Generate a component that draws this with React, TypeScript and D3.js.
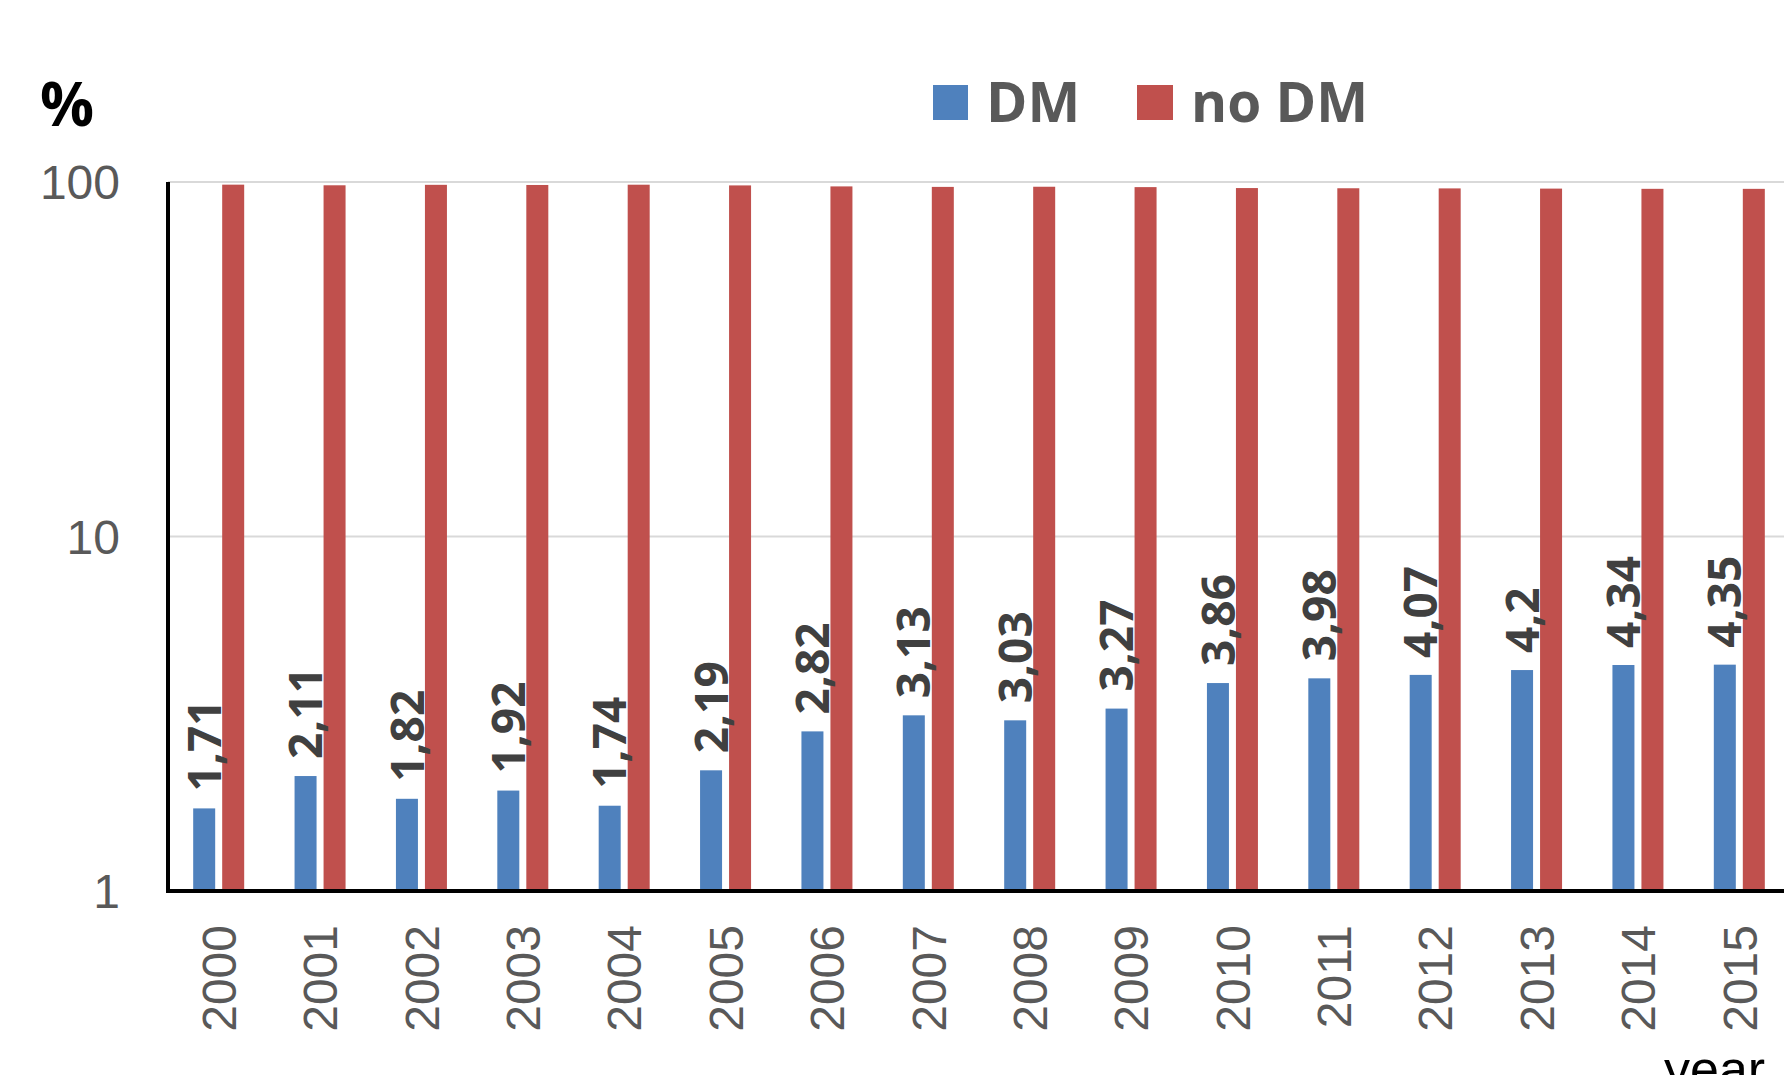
import React from "react";
import * as d3 from "d3";

const years = ["2000","2001","2002","2003","2004","2005","2006","2007","2008","2009","2010","2011","2012","2013","2014","2015"];
const dmValues = [1.71, 2.11, 1.82, 1.92, 1.74, 2.19, 2.82, 3.13, 3.03, 3.27, 3.86, 3.98, 4.07, 4.2, 4.34, 4.35];
const noDmValues = dmValues.map((v) => 100 - v);
const seriesNames = ["DM", "no DM"];
const seriesColors = ["#4F81BD", "#C0504D"];
const yTicks = [1, 10, 100];

const W = 1784;
const H = 1075;
const plotLeft = 168;
const plotRight = 1790;
const plotTop = 182;
const plotBottom = 891;

export default function App() {
  const x = d3.scaleBand<string>().domain(years).range([plotLeft, plotRight]).paddingInner(0).paddingOuter(0);
  const y = d3.scaleLog().domain([1, 100]).range([plotBottom, plotTop]);
  const sub = d3.scaleBand<string>().domain(seriesNames).range([-25.5, 25.5]).paddingInner(7 / 29).paddingOuter(0);
  const fmt = (v: number) => String(v).replace(".", ",");
  const labelFont = "'Open Sans', 'Liberation Sans', sans-serif";
  const tickFont = "'Liberation Sans', Arial, sans-serif";

  return (
    <svg width={W} height={H} style={{ position: "absolute", left: 0, top: 0, background: "#fff" }}>
      <rect x={0} y={0} width={W} height={H} fill="#fff" />
      {yTicks.map((t) => (
        <line key={"g" + t} x1={plotLeft} x2={plotRight} y1={y(t)} y2={y(t)} stroke="#d9d9d9" strokeWidth={2} />
      ))}
      {years.map((yr, i) => {
        const c = (x(yr) as number) + x.bandwidth() / 2;
        const vals = [dmValues[i], noDmValues[i]];
        return (
          <g key={yr}>
            {seriesNames.map((s, j) => (
              <rect
                key={s}
                x={c + (sub(s) as number)}
                width={sub.bandwidth()}
                y={y(vals[j])}
                height={plotBottom - y(vals[j])}
                fill={seriesColors[j]}
              />
            ))}
          </g>
        );
      })}
      {years.map((yr, i) => {
        const c = (x(yr) as number) + x.bandwidth() / 2 + (sub("DM") as number) + sub.bandwidth() / 2;
        const yy = y(dmValues[i]) - 17;
        return (
          <text
            key={"l" + yr}
            transform={`translate(${c},${yy}) rotate(-90)`}
            dy="0.36em"
            textAnchor="start"
            fontFamily={labelFont}
            fontWeight="bold"
            fontSize={46}
            fill="#404040"
          >
            {fmt(dmValues[i])}
          </text>
        );
      })}
      <line x1={plotLeft} x2={plotLeft} y1={plotTop} y2={plotBottom + 2} stroke="#000" strokeWidth={4} />
      <line x1={plotLeft - 2} x2={plotRight} y1={plotBottom} y2={plotBottom} stroke="#000" strokeWidth={4} />
      {yTicks.map((t) => (
        <text
          key={"t" + t}
          x={120}
          y={y(t)}
          dy="0.36em"
          textAnchor="end"
          fontFamily={tickFont}
          fontSize={48}
          fill="#595959"
        >
          {String(t)}
        </text>
      ))}
      {years.map((yr) => {
        const c = (x(yr) as number) + x.bandwidth() / 2;
        return (
          <text
            key={"x" + yr}
            transform={`translate(${c},925) rotate(-90)`}
            dy="0.36em"
            textAnchor="end"
            fontFamily={tickFont}
            fontSize={48}
            fill="#595959"
          >
            {yr}
          </text>
        );
      })}
      <text x={40} y={126} fontFamily={labelFont} fontWeight="bold" fontSize={60} fill="#000">%</text>
      <text x={1664} y={1087} fontFamily={tickFont} fontSize={52} fill="#000">year</text>
      <rect x={933} y={85} width={35} height={35} fill={seriesColors[0]} />
      <text x={986} y={122} fontFamily={labelFont} fontWeight="bold" fontSize={56} fill="#595959">{seriesNames[0]}</text>
      <rect x={1137} y={85} width={36} height={35} fill={seriesColors[1]} />
      <text x={1191} y={122} fontFamily={labelFont} fontWeight="bold" fontSize={55} fill="#595959">{seriesNames[1]}</text>
    </svg>
  );
}
